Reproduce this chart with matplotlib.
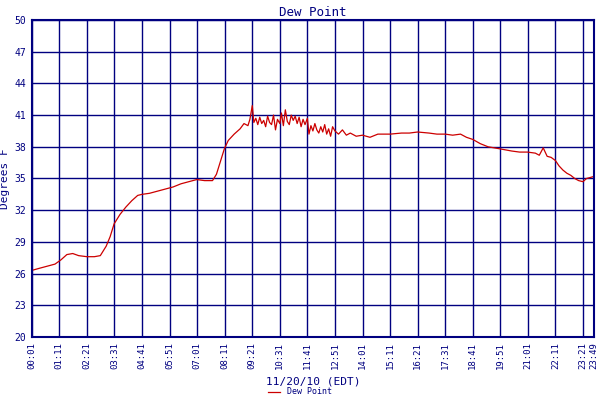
import matplotlib.pyplot as plt
import numpy as np

times = ["00:01", "00:20", "00:40", "01:00", "01:15", "01:30", "01:45", "02:00", "02:21", "02:40",
         "02:55", "03:10", "03:20", "03:30", "03:45", "04:00", "04:15", "04:30", "04:41", "05:00",
         "05:20", "05:40", "06:00", "06:20", "06:40", "07:00", "07:20", "07:40", "07:50", "08:00",
         "08:10", "08:20", "08:35", "08:50", "09:00", "09:10", "09:15", "09:21", "09:25", "09:30",
         "09:35", "09:40", "09:45", "09:50", "09:55", "10:00", "10:05", "10:10", "10:15", "10:20",
         "10:25", "10:31", "10:35", "10:40", "10:45", "10:50", "10:55", "11:00", "11:05", "11:10",
         "11:15", "11:20", "11:25", "11:30", "11:35", "11:41", "11:45", "11:50", "11:55", "12:00",
         "12:05", "12:10", "12:15", "12:20", "12:25", "12:30", "12:35", "12:40", "12:45", "12:51",
         "13:00", "13:10", "13:20", "13:30", "13:45", "14:01", "14:20", "14:40", "15:11", "15:40",
         "16:00", "16:21", "16:50", "17:10", "17:31", "17:50", "18:10", "18:25", "18:41", "19:00",
         "19:20", "19:51", "20:20", "20:40", "21:00", "21:20", "21:30", "21:40", "21:50", "22:00",
         "22:11", "22:20", "22:30", "22:40", "22:50", "23:00", "23:10", "23:21", "23:30", "23:40",
         "23:49"]
dew_point = [26.3, 26.5, 26.7, 26.9, 27.3, 27.8, 27.9, 27.7, 27.6, 27.6,
             27.7, 28.6, 29.5, 30.7, 31.6, 32.3, 32.9, 33.4, 33.5, 33.6,
             33.8, 34.0, 34.2, 34.5, 34.7, 34.9, 34.8, 34.8, 35.4, 36.6,
             37.8, 38.6, 39.2, 39.7, 40.2, 40.0, 40.6, 41.9, 40.3, 40.7,
             40.1, 40.8, 40.2, 40.5, 39.9, 40.9, 40.3, 40.1, 41.0, 39.6,
             40.6, 40.2, 41.2, 40.0, 41.5, 40.4, 40.1, 41.0, 40.5, 40.9,
             40.2, 40.8, 39.9, 40.6, 40.1, 40.7, 39.2, 40.0, 39.5, 40.2,
             39.6, 39.3, 39.9, 39.4, 40.1, 39.2, 39.7, 39.0, 39.9, 39.5,
             39.2, 39.6, 39.1, 39.3, 39.0, 39.1, 38.9, 39.2, 39.2, 39.3,
             39.3, 39.4, 39.3, 39.2, 39.2, 39.1, 39.2, 38.9, 38.7, 38.3,
             38.0, 37.8, 37.6, 37.5, 37.5, 37.4, 37.2, 37.9, 37.1, 37.0,
             36.7, 36.2, 35.8, 35.5, 35.3, 35.0, 34.8, 34.7, 35.0, 35.1,
             35.2]
tick_labels = ["00:01", "01:11", "02:21", "03:31", "04:41", "05:51", "07:01", "08:11", "09:21", "10:31",
               "11:41", "12:51", "14:01", "15:11", "16:21", "17:31", "18:41", "19:51", "21:01", "22:11",
               "23:21", "23:49"]
y_ticks = [20, 23, 26, 29, 32, 35, 38, 41, 44, 47, 50]


def to_min(t):
    h, m = t.split(":")
    return int(h) * 60 + int(m)


navy = "#000080"
plt.rcParams['font.family'] = ['DejaVu Sans Mono']

fig = plt.figure(figsize=(6, 4), dpi=100)
ax = fig.add_axes([0.053, 0.1575, 0.937, 0.7925])
x = [to_min(t) for t in times]
ax.plot(x, dew_point, color="#cc0000", lw=0.9, label="Dew Point")

ax.set_xlim(to_min("00:01"), to_min("23:49"))
ax.set_ylim(20, 50)
ax.set_xticks([to_min(t) for t in tick_labels])
ax.set_xticklabels(tick_labels, rotation=90, fontsize=6.5, color=navy)
ax.set_yticks(y_ticks)
ax.set_yticklabels([str(v) for v in y_ticks], fontsize=7, color=navy)
ax.tick_params(length=0, pad=4)
ax.grid(True, color=navy, lw=1)
ax.set_axisbelow(True)
for s in ax.spines.values():
    s.set_color(navy)
    s.set_linewidth(1.5)

ax.set_title("Dew Point", color=navy, fontsize=9, pad=3)
ax.set_ylabel("Degrees F", color=navy, fontsize=8, labelpad=3)
ax.set_xlabel("11/20/10 (EDT)", color=navy, fontsize=8, labelpad=5)
fig.legend(loc="lower center", bbox_to_anchor=(0.5, -0.01), frameon=False, fontsize=6,
           labelcolor=navy, handlelength=1.5)

fig.savefig("out.png")
